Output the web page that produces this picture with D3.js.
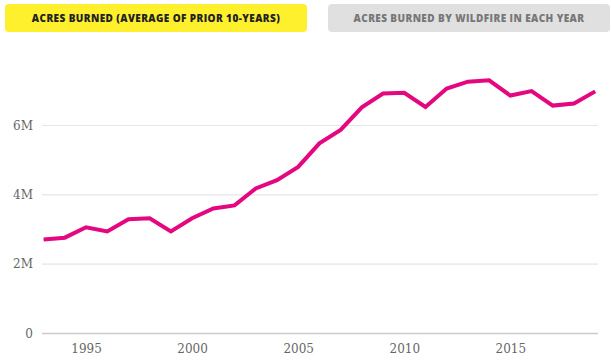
<!DOCTYPE html>
<meta charset="utf-8">
<style>
    body {
        margin: 0;
        font-family: 'Open Sans', sans-serif;
        background: #fff;
    }
    #graph {
        position: relative;
        width: 611px;
        height: 362px;
    }
    .btn {
        position: absolute;
        top: 4px;
        height: 28px;
        line-height: 28px;
        border-radius: 4px;
        text-align: center;
        font-size: 10px;
        font-weight: 800;
        letter-spacing: 0.4px;
    }
    .tick text {
        font-family: 'DejaVu Serif', serif;
        font-size: 12px;
        fill: #666;
    }
</style>
<script src="https://d3js.org/d3.v7.min.js"></script>
<div id="graph">
    <div class="btn" style="left:5px;width:302px;background:#fff02d;color:#222;">ACRES BURNED (AVERAGE OF PRIOR 10-YEARS)</div>
    <div class="btn" style="left:328px;width:282px;background:#e0e0e0;color:#777;">ACRES BURNED BY WILDFIRE IN EACH YEAR</div>
</div>
<script>
    // 10-year average acres burned, millions
    const years = d3.range(1993, 2020);
    const avgAcres = [2.70, 2.75, 3.05, 2.93, 3.28, 3.31, 2.93, 3.31, 3.59, 3.68,
        4.17, 4.41, 4.79, 5.47, 5.86, 6.51, 6.91, 6.93, 6.52, 7.05,
        7.25, 7.29, 6.85, 6.98, 6.56, 6.62, 6.97];
    const yTicks = [0, 2, 4, 6];
    const xTicks = [1995, 2000, 2005, 2010, 2015];

    const data = years.map((yr, i) => ({year: yr, value: avgAcres[i]}));

    const svg = d3.select("#graph")
        .append("svg")
        .attr("width", 611)
        .attr("height", 362)
        .style("position", "absolute")
        .style("left", 0)
        .style("top", 0);

    const x = d3.scaleLinear()
        .domain([1993, 2019])
        .range([43.6, 595.2]);

    const y = d3.scaleLinear()
        .domain([0, 6])
        .range([333, 125]);

    // gridlines + y labels
    const axisY = svg.append("g")
        .attr("transform", "translate(42,0)")
        .call(d3.axisLeft(y).tickValues(yTicks).tickSize(0).tickPadding(9)
            .tickFormat(d => d === 0 ? "0" : d + "M"));
    axisY.select(".domain").remove();
    axisY.selectAll(".tick line")
        .attr("x2", 556)
        .attr("stroke", d => d === 0 ? "#cccccc" : "#e6e6e6")
        .attr("stroke-width", d => d === 0 ? 1.5 : 1.2);
    axisY.selectAll(".tick text").attr("dy", "0.35em");

    const axisX = svg.append("g")
        .attr("transform", "translate(0,333)")
        .call(d3.axisBottom(x).tickValues(xTicks).tickSize(0).tickPadding(11)
            .tickFormat(d3.format("d")));
    axisX.select(".domain").remove();

    const line = d3.line()
        .x(d => x(d.year))
        .y(d => y(d.value));

    svg.append("path")
        .datum(data)
        .attr("fill", "none")
        .attr("stroke", "#e5077f")
        .attr("stroke-width", 4)
        .attr("stroke-linejoin", "miter")
        .attr("d", line);
</script>
